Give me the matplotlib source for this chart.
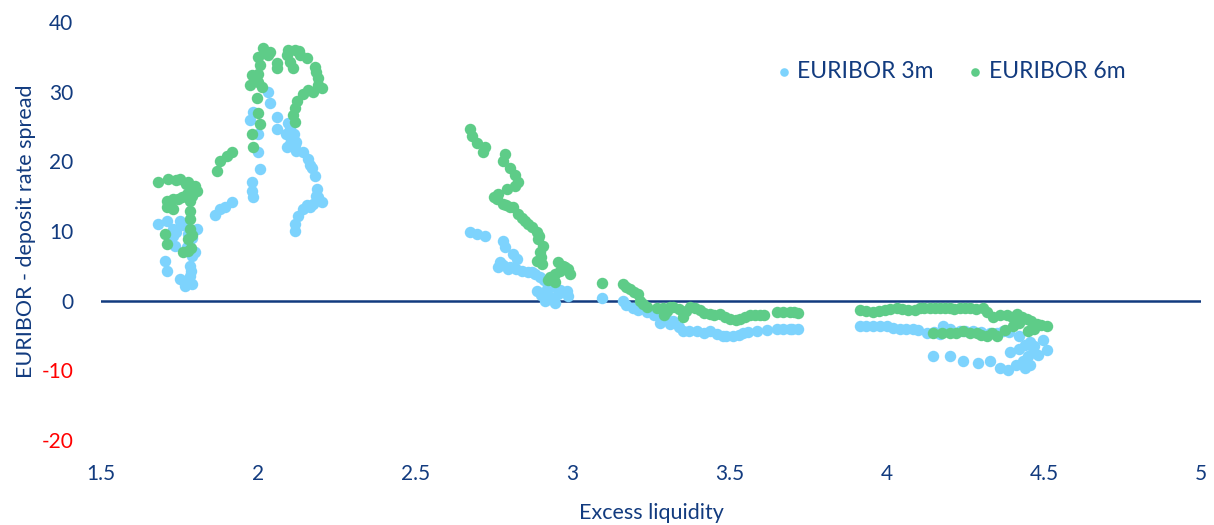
import matplotlib
matplotlib.use("Agg")
import matplotlib.pyplot as plt

# EURIBOR 3m - deposit rate spread vs excess liquidity (by cluster)
x_3m_a = [1.681, 1.710, 1.751, 1.729, 1.805, 1.777, 1.720, 1.735, 1.774, 1.790,
          1.783, 1.783, 1.767, 1.751, 1.704, 1.710, 1.790, 1.863, 1.879, 1.895,
          1.917, 1.74, 1.76, 1.79, 1.78, 1.80, 1.785, 1.77, 1.73]
y_3m_a = [11.0, 11.4, 11.4, 10.3, 10.3, 9.6, 8.9, 7.9, 7.7, 6.4,
          5.0, 3.6, 2.1, 3.1, 5.7, 4.3, 2.4, 12.3, 13.1, 13.4,
          14.1, 9.8, 10.8, 9.0, 8.0, 7.0, 4.2, 2.8, 9.3]
x_3m_b = [2.031, 2.038, 1.984, 1.974, 2.000, 2.000, 2.006, 1.980, 1.980, 1.984,
          2.060, 2.060, 2.101, 2.111, 2.092, 2.117, 2.143, 2.159, 2.171, 2.181,
          2.187, 2.190, 2.203, 2.175, 2.143, 2.127, 2.117, 2.117, 2.095, 2.105,
          2.120, 2.090, 2.10, 2.115, 2.12, 2.10, 2.165, 2.185, 2.165, 2.155]
y_3m_b = [29.9, 28.4, 27.1, 26.0, 23.9, 21.4, 18.9, 17.1, 15.7, 14.9,
          26.3, 24.6, 24.6, 23.4, 22.0, 22.4, 21.3, 20.3, 19.1, 17.9,
          16.0, 14.9, 14.1, 13.9, 13.1, 12.1, 11.0, 10.0, 25.5, 23.0,
          21.5, 24.0, 22.5, 24.0, 22.8, 24.5, 19.5, 15.0, 13.5, 13.8]
x_3m_c = [2.674, 2.696, 2.722, 2.779, 2.785, 2.811, 2.824, 2.770, 2.763, 2.795,
          2.840, 2.871, 2.897, 2.887, 2.919, 2.913, 2.929, 2.954, 2.983, 2.986,
          2.944, 2.78, 2.80, 2.82, 2.86, 2.88, 2.91, 2.93, 2.96, 2.90, 2.925]
y_3m_c = [9.9, 9.6, 9.3, 8.6, 7.7, 6.7, 6.0, 5.6, 4.9, 4.6,
          4.3, 4.1, 3.4, 1.4, 1.7, -0.1, 0.6, 1.0, 1.4, 0.7,
          -0.4, 5.1, 4.9, 4.5, 4.1, 3.8, 3.0, 2.0, 1.6, 0.8, 0.2]
x_3m_d = [3.094, 3.161, 3.193, 3.237, 3.288, 3.320, 3.352, 3.396, 3.438, 3.479,
          3.511, 3.543, 3.587, 3.651, 3.692, 3.718, 3.17, 3.21, 3.26, 3.30,
          3.34, 3.37, 3.42, 3.46, 3.49, 3.53, 3.56, 3.62, 3.67, 3.70, 3.28, 3.31]
y_3m_d = [0.4, 0.0, -1.1, -1.6, -2.6, -2.9, -4.3, -4.3, -4.3, -5.0,
          -5.1, -4.7, -4.3, -4.0, -4.0, -4.1, -0.6, -1.3, -2.0, -2.8,
          -3.8, -4.3, -4.6, -4.8, -5.1, -4.9, -4.5, -4.2, -4.0, -4.1, -3.2, -3.3]
x_3m_e = [3.915, 3.956, 4.001, 4.042, 4.084, 4.128, 4.179, 4.233, 4.274, 4.329,
          4.370, 4.456, 4.497, 4.510, 4.465, 4.392, 4.433, 4.456, 4.440, 4.147,
          4.201, 4.243, 4.290, 4.329, 4.360, 4.386, 3.935, 3.98, 4.02, 4.06,
          4.10, 4.15, 4.20, 4.25, 4.30, 4.35, 4.39, 4.42, 4.44, 4.47,
          4.48, 4.42, 4.45, 4.17, 4.41]
y_3m_e = [-3.7, -3.7, -3.7, -4.0, -4.0, -4.7, -3.7, -4.3, -4.4, -4.7,
          -4.4, -5.9, -5.7, -7.1, -7.3, -7.3, -8.6, -9.3, -9.7, -7.9,
          -8.0, -8.7, -9.0, -8.7, -9.7, -10.0, -3.7, -3.6, -3.9, -4.0,
          -4.2, -4.5, -4.1, -4.4, -4.5, -4.6, -4.5, -5.0, -6.3, -6.5,
          -7.8, -7.0, -8.0, -4.8, -9.2]

# EURIBOR 6m - deposit rate spread vs excess liquidity
x_6m_a = [1.681, 1.713, 1.751, 1.777, 1.799, 1.805, 1.790, 1.758, 1.729, 1.710,
          1.710, 1.729, 1.783, 1.783, 1.783, 1.783, 1.777, 1.777, 1.761, 1.704,
          1.710, 1.869, 1.879, 1.901, 1.917, 1.74, 1.77, 1.72, 1.785, 1.775,
          1.79, 1.785, 1.745]
y_6m_a = [17.1, 17.4, 17.4, 17.1, 16.4, 15.7, 15.0, 14.9, 14.6, 14.3,
          13.4, 13.1, 14.3, 12.9, 11.7, 10.3, 8.9, 7.1, 7.0, 9.6,
          8.1, 18.6, 20.0, 20.7, 21.4, 17.3, 16.8, 13.8, 16.0, 15.3,
          9.5, 7.6, 14.6]
x_6m_b = [2.015, 2.038, 2.000, 2.006, 2.060, 2.060, 1.980, 1.974, 2.000, 2.012,
          1.996, 2.000, 2.006, 1.980, 1.984, 2.095, 2.117, 2.092, 2.133, 2.155,
          2.181, 2.190, 2.203, 2.175, 2.143, 2.124, 2.117, 2.111, 2.117, 2.111,
          2.101, 2.03, 2.185, 2.16, 2.19, 2.13, 2.0]
y_6m_b = [36.3, 35.7, 35.0, 33.9, 34.1, 33.4, 32.4, 31.0, 31.4, 30.7,
          29.1, 27.0, 25.3, 23.9, 22.1, 36.0, 36.0, 35.3, 35.3, 34.9,
          33.6, 32.0, 30.6, 29.9, 29.6, 28.6, 27.7, 26.7, 25.6, 33.4,
          34.3, 35.2, 32.8, 30.3, 31.0, 35.8, 32.5]
x_6m_c = [2.674, 2.680, 2.696, 2.722, 2.715, 2.785, 2.779, 2.801, 2.817, 2.827,
          2.817, 2.792, 2.763, 2.760, 2.779, 2.811, 2.827, 2.849, 2.871, 2.887,
          2.890, 2.906, 2.897, 2.887, 2.903, 2.954, 2.976, 2.992, 2.944, 2.922,
          2.944, 2.75, 2.79, 2.80, 2.84, 2.86, 2.895, 2.90, 2.93, 2.96,
          2.97, 2.985]
y_6m_c = [24.6, 23.6, 22.7, 22.1, 21.3, 21.0, 20.0, 19.1, 18.1, 17.1,
          16.4, 16.0, 15.3, 14.6, 13.9, 13.4, 12.4, 11.4, 10.6, 9.9,
          8.9, 7.9, 7.0, 5.7, 5.3, 5.6, 4.9, 3.9, 3.9, 2.9,
          2.7, 14.9, 13.7, 13.5, 11.9, 11.0, 9.3, 6.3, 3.4, 4.3,
          5.0, 4.5]
x_6m_d = [3.094, 3.161, 3.183, 3.209, 3.215, 3.237, 3.288, 3.320, 3.352, 3.374,
          3.406, 3.438, 3.469, 3.501, 3.533, 3.565, 3.597, 3.651, 3.692, 3.718,
          3.17, 3.195, 3.225, 3.27, 3.30, 3.31, 3.34, 3.36, 3.39, 3.42,
          3.45, 3.485, 3.52, 3.55, 3.58, 3.61, 3.67, 3.705, 3.29]
y_6m_d = [2.6, 2.4, 1.7, 1.0, 0.0, -0.9, -1.1, -0.9, -2.3, -0.9,
          -1.4, -1.9, -1.9, -2.6, -2.6, -2.1, -2.1, -1.6, -1.6, -1.7,
          2.0, 1.3, -0.5, -1.1, -1.5, -0.9, -1.2, -1.5, -1.1, -1.7,
          -2.1, -2.3, -2.8, -2.4, -2.0, -2.0, -1.6, -1.6, -2.0]
x_6m_e = [3.915, 3.956, 3.994, 4.033, 4.068, 4.106, 4.138, 4.169, 4.201, 4.233,
          4.265, 4.306, 4.338, 4.383, 4.414, 4.446, 4.478, 4.510, 4.449, 4.402,
          4.351, 4.319, 4.287, 4.243, 4.201, 4.147, 3.935, 3.975, 4.01, 4.05,
          4.09, 4.12, 4.155, 4.185, 4.215, 4.25, 4.285, 4.32, 4.36, 4.40,
          4.43, 4.46, 4.49, 4.47, 4.42, 4.375, 4.335, 4.30, 4.265, 4.22, 4.175]
y_6m_e = [-1.4, -1.6, -1.4, -1.1, -1.4, -1.1, -1.0, -1.1, -1.1, -1.1,
          -1.1, -1.1, -2.3, -2.1, -1.9, -2.6, -3.3, -3.6, -4.4, -3.7,
          -5.0, -5.0, -4.7, -4.4, -4.7, -4.7, -1.5, -1.5, -1.2, -1.2,
          -1.3, -1.0, -1.1, -1.0, -1.2, -1.0, -1.2, -1.6, -2.0, -2.3,
          -2.3, -2.9, -3.5, -4.0, -3.2, -4.2, -4.6, -4.9, -4.6, -4.6, -4.6]

x_3m = x_3m_a + x_3m_b + x_3m_c + x_3m_d + x_3m_e
y_3m = y_3m_a + y_3m_b + y_3m_c + y_3m_d + y_3m_e
x_6m = x_6m_a + x_6m_b + x_6m_c + x_6m_d + x_6m_e
y_6m = y_6m_a + y_6m_b + y_6m_c + y_6m_d + y_6m_e

xticks = [1.5, 2, 2.5, 3, 3.5, 4, 4.5, 5]
xtick_labels = ["1.5", "2", "2.5", "3", "3.5", "4", "4.5", "5"]
yticks = [-20, -10, 0, 10, 20, 30, 40]

navy = "#123b7f"
blue = "#7dd3fd"
green = "#5ecc88"

plt.rcParams['font.family'] = ['Lato', 'DejaVu Sans']
plt.rcParams['axes.unicode_minus'] = False

fig = plt.figure(figsize=(12.14, 5.25), dpi=100)
ax = fig.add_axes([0.0832, 0.1619, 0.9061, 0.7961])

ax.scatter(x_3m, y_3m, s=68, color=blue, linewidths=0, label="EURIBOR 3m", zorder=3)
ax.scatter(x_6m, y_6m, s=68, color=green, linewidths=0, label="EURIBOR 6m", zorder=4)
ax.axhline(0, color=navy, linewidth=1.8, zorder=2)

ax.set_xlim(1.5, 5)
ax.set_ylim(-20, 40)
ax.set_xticks(xticks)
ax.set_xticklabels(xtick_labels)
ax.set_yticks(yticks)
for s in ax.spines.values():
    s.set_visible(False)
ax.tick_params(axis='both', length=0, labelsize=15, colors=navy)
ax.tick_params(axis='y', pad=20)
ax.tick_params(axis='x', pad=17)
for lab, v in zip(ax.get_yticklabels(), yticks):
    lab.set_color("#ff0000" if v < 0 else navy)

ax.set_xlabel("Excess liquidity", fontsize=15.5, color=navy, labelpad=14)
ax.set_ylabel("EURIBOR - deposit rate spread", fontsize=15.5, color=navy, labelpad=4)

leg = ax.legend(loc="upper right", bbox_to_anchor=(0.946, 0.944), ncol=2, frameon=False,
                fontsize=16.5, handlelength=0.8, handletextpad=0.2, columnspacing=1.4,
                markerscale=0.75, borderaxespad=0.3)
for t in leg.get_texts():
    t.set_color(navy)

fig.savefig("out.png", dpi=100)
